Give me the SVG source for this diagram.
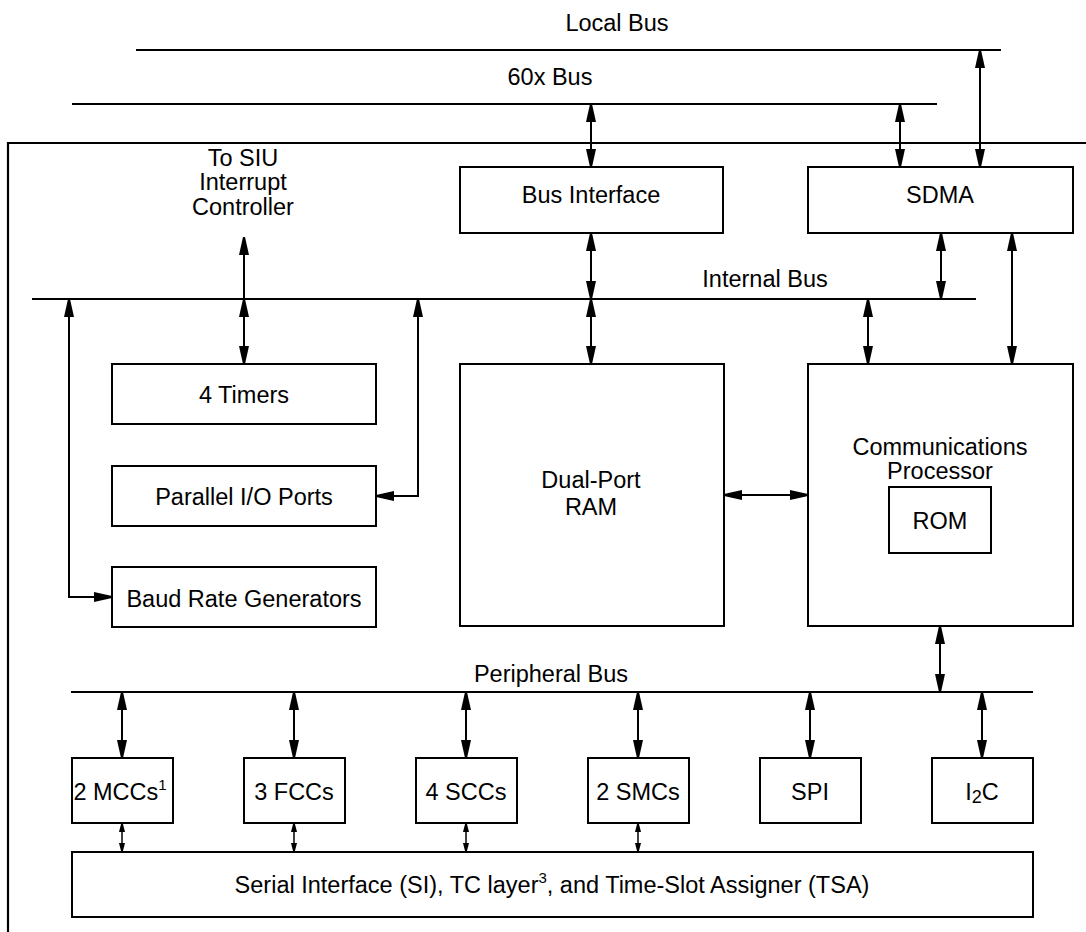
<svg xmlns="http://www.w3.org/2000/svg" width="1086" height="932" viewBox="0 0 1086 932">
<style>
  .bx{fill:#fff;stroke:#000;stroke-width:2}
  .ln{fill:none;stroke:#000;stroke-width:2}
  .bus{fill:none;stroke:#000;stroke-width:2.2}
  .ar{fill:none;stroke:#000;stroke-width:2;marker-start:url(#ah);marker-end:url(#ah)}
  .ar1{fill:none;stroke:#000;stroke-width:2;marker-end:url(#ah)}
  .sm{fill:none;stroke:#000;stroke-width:1.5;marker-start:url(#ahs);marker-end:url(#ahs)}
  text{font-family:"Liberation Sans",Arial,Helvetica,sans-serif;font-size:23.5px;fill:#000;text-anchor:middle}
  .sup{font-size:15px}
</style>
<defs>
  <marker id="ah" markerUnits="userSpaceOnUse" markerWidth="18" markerHeight="10" refX="18" refY="5" orient="auto-start-reverse" viewBox="0 0 18 10">
    <path d="M0,0 L18,4 L18,6 L0,10 Z" fill="#000"/>
  </marker>
  <marker id="ahs" markerUnits="userSpaceOnUse" markerWidth="9" markerHeight="6" refX="9" refY="3" orient="auto-start-reverse" viewBox="0 0 9 6">
    <path d="M0,0 L9,2.3 L9,3.7 L0,6 Z" fill="#000"/>
  </marker>
</defs>
<rect width="1086" height="932" fill="#fff"/>

<g id="frame">
  <path class="bus" d="M8,932 L8,143 L1086,143"/>
</g>

<g id="buses">
  <line class="bus" x1="136" y1="50" x2="1001" y2="50"/>
  <text x="617" y="31">Local Bus</text>
  <line class="bus" x1="72" y1="104" x2="937" y2="104"/>
  <text x="550" y="85">60x Bus</text>
  <line class="bus" x1="32" y1="299" x2="976" y2="299"/>
  <text x="765" y="287">Internal Bus</text>
  <line class="bus" x1="71" y1="692" x2="1033" y2="692"/>
  <text x="551" y="682">Peripheral Bus</text>
</g>

<g id="siu">
  <text x="243" y="166">To SIU</text>
  <text x="243" y="190">Interrupt</text>
  <text x="243" y="215">Controller</text>
</g>

<g id="bus-interface">
  <rect class="bx" x="460" y="167" width="263" height="66"/>
  <text x="591" y="203">Bus Interface</text>
</g>
<g id="sdma">
  <rect class="bx" x="808" y="167" width="265" height="66"/>
  <text x="940" y="203">SDMA</text>
</g>
<g id="timers">
  <rect class="bx" x="112" y="364" width="264" height="60"/>
  <text x="244" y="403">4 Timers</text>
</g>
<g id="pio">
  <rect class="bx" x="112" y="466" width="264" height="60"/>
  <text x="244" y="505">Parallel I/O Ports</text>
</g>
<g id="brg">
  <rect class="bx" x="112" y="567" width="264" height="60"/>
  <text x="244" y="607">Baud Rate Generators</text>
</g>
<g id="dpram">
  <rect class="bx" x="460" y="364" width="264" height="262"/>
  <text x="591" y="488">Dual-Port</text>
  <text x="591" y="515">RAM</text>
</g>
<g id="cp">
  <rect class="bx" x="808" y="364" width="265" height="262"/>
  <text x="940" y="455">Communications</text>
  <text x="940" y="479">Processor</text>
</g>
<g id="rom">
  <rect class="bx" x="889" y="487" width="102" height="66"/>
  <text x="940" y="529">ROM</text>
</g>

<g id="mcc">
  <rect class="bx" x="72" y="758" width="101" height="65"/>
  <text x="120" y="800">2 MCCs<tspan class="sup" dy="-10">1</tspan></text>
</g>
<g id="fcc">
  <rect class="bx" x="244" y="758" width="101" height="65"/>
  <text x="294" y="800">3 FCCs</text>
</g>
<g id="scc">
  <rect class="bx" x="416" y="758" width="101" height="65"/>
  <text x="466" y="800">4 SCCs</text>
</g>
<g id="smc">
  <rect class="bx" x="588" y="758" width="101" height="65"/>
  <text x="638" y="800">2 SMCs</text>
</g>
<g id="spi">
  <rect class="bx" x="760" y="758" width="101" height="65"/>
  <text x="810" y="800">SPI</text>
</g>
<g id="i2c">
  <rect class="bx" x="932" y="758" width="101" height="65"/>
  <text x="982" y="800">I<tspan font-size="18" dy="3">2</tspan><tspan dy="-3">C</tspan></text>
</g>
<g id="si">
  <rect class="bx" x="72" y="852" width="961" height="65"/>
  <text x="552" y="893">Serial Interface (SI), TC layer<tspan class="sup" dy="-10">3</tspan><tspan dy="10">, and Time-Slot Assigner (TSA)</tspan></text>
</g>

<g id="connectors">
  <line class="ar" x1="591" y1="104" x2="591" y2="167"/>
  <line class="ar" x1="900" y1="104" x2="900" y2="167"/>
  <line class="ar" x1="980" y1="50" x2="980" y2="167"/>
  <line class="ar1" x1="244" y1="299" x2="244" y2="237"/>
  <line class="ar" x1="591" y1="233" x2="591" y2="299"/>
  <line class="ar" x1="941" y1="233" x2="941" y2="299"/>
  <line class="ar" x1="1012" y1="233" x2="1012" y2="364"/>
  <line class="ar" x1="591" y1="299" x2="591" y2="364"/>
  <line class="ar" x1="868" y1="299" x2="868" y2="364"/>
  <line class="ar" x1="244" y1="299" x2="244" y2="364"/>
  <path class="ar" d="M418,299 L418,496 L376,496"/>
  <path class="ar" d="M69,299 L69,597 L112,597"/>
  <line class="ar" x1="724" y1="495" x2="808" y2="495"/>
  <line class="ar" x1="940" y1="626" x2="940" y2="692"/>
  <line class="ar" x1="122" y1="692" x2="122" y2="758"/>
  <line class="ar" x1="294" y1="692" x2="294" y2="758"/>
  <line class="ar" x1="466" y1="692" x2="466" y2="758"/>
  <line class="ar" x1="638" y1="692" x2="638" y2="758"/>
  <line class="ar" x1="810" y1="692" x2="810" y2="758"/>
  <line class="ar" x1="982" y1="692" x2="982" y2="758"/>
  <line class="sm" x1="122" y1="823" x2="122" y2="852"/>
  <line class="sm" x1="294" y1="823" x2="294" y2="852"/>
  <line class="sm" x1="466" y1="823" x2="466" y2="852"/>
  <line class="sm" x1="638" y1="823" x2="638" y2="852"/>
</g>
</svg>
